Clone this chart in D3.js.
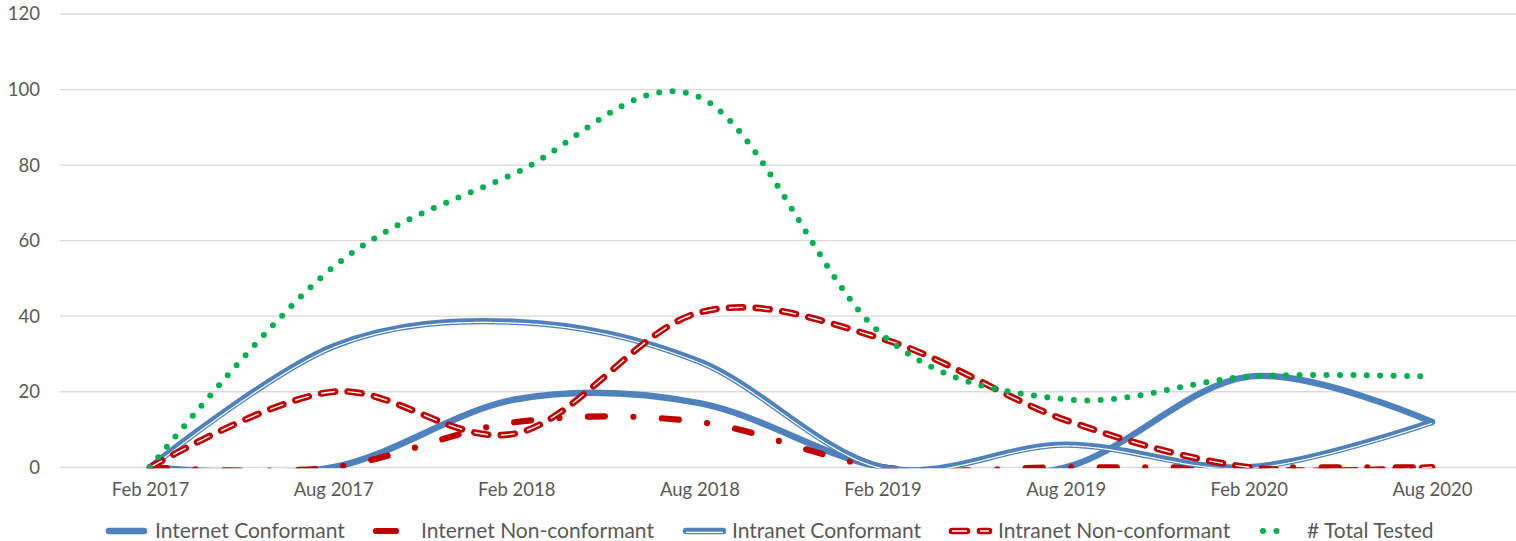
<!DOCTYPE html>
<html>
<head>
<meta charset="utf-8">
<script src="https://cdn.jsdelivr.net/npm/d3@7"></script>
<style>
  html, body { margin: 0; padding: 0; background: #ffffff; }
  svg { display: block; font-family: Lato, "Open Sans", sans-serif; }
</style>
</head>
<body>
<svg id="chart" width="1516" height="541"></svg>
<script>
// Half-year test periods
const categories = ["Feb 2017", "Aug 2017", "Feb 2018", "Aug 2018", "Feb 2019", "Aug 2019", "Feb 2020", "Aug 2020"];

// Counts per period
const internetConformant    = [0, 0, 18, 17, 0, 0, 24, 12];
const internetNonConformant = [0, 0, 12, 12, 0, 0, 0, 0];
const intranetConformant    = [0, 32, 38.5, 28, 0, 6, 0, 12];
const intranetNonConformant = [0, 20, 9, 41, 34, 12.5, 0, 0];
const totalTested           = [0, 53, 78, 98, 35, 18, 24, 24];

const yTicks = [0, 20, 40, 60, 80, 100, 120];
const seriesNames = ["Internet Conformant", "Internet Non-conformant", "Intranet Conformant", "Intranet Non-conformant", "# Total Tested"];

const W = 1516, H = 541;
const plot = { left: 58.5, right: 1523.5, top: 14, bottom: 467.3 };
const BLUE = "#4F81BD", RED = "#C00000", GREEN = "#00B050", TEXT = "#595959", GRID = "#D9D9D9";

const svg = d3.select("#chart");

const x = d3.scalePoint().domain(categories).range([plot.left, plot.right]).padding(0.5);
const y = d3.scaleLinear().domain([0, 120]).range([plot.bottom, plot.top]);

// Gridlines
svg.append("g").selectAll("line").data(yTicks).join("line")
  .attr("x1", 60).attr("x2", W)
  .attr("y1", d => y(d)).attr("y2", d => y(d))
  .attr("stroke", GRID).attr("stroke-width", 1.3);

// Y axis labels (no axis line)
const yAxis = d3.axisLeft(y).tickValues(yTicks).tickSize(0).tickPadding(0);
const gy = svg.append("g").attr("transform", "translate(40,0)").call(yAxis);
gy.select(".domain").remove();
gy.selectAll("text").attr("fill", TEXT).attr("font-size", 18.5).attr("font-family", "Lato, sans-serif");

// X axis labels
const xAxis = d3.axisBottom(x).tickSize(0).tickPadding(0);
const gx = svg.append("g").attr("transform", "translate(0,483)").call(xAxis);
gx.select(".domain").remove();
gx.selectAll("text").attr("fill", TEXT).attr("font-size", 18.5).attr("font-family", "Lato, sans-serif");

// Series lines, clipped to the plot area
svg.append("defs").append("clipPath").attr("id", "plotClip")
  .append("rect").attr("x", 0).attr("y", 0).attr("width", W).attr("height", plot.bottom + 1);

const area = svg.append("g").attr("clip-path", "url(#plotClip)");

const line = d3.line()
  .x((d, i) => x(categories[i]))
  .y(d => y(d))
  .curve(d3.curveCardinal.tension(0));

// Polyline running parallel to a drawn path at distance d (right-hand side of travel)
function parallelPath(node, d) {
  const L = node.getTotalLength();
  const pts = [];
  for (let s = 0; s <= L; s += 1.5) {
    const p = node.getPointAtLength(s);
    const a = node.getPointAtLength(Math.max(0, s - 0.6));
    const b = node.getPointAtLength(Math.min(L, s + 0.6));
    const dx = b.x - a.x, dy = b.y - a.y, n = Math.hypot(dx, dy) || 1;
    pts.push([p.x - dy / n * d, p.y + dx / n * d]);
  }
  return d3.line()(pts);
}

// Internet Conformant: thick solid
area.append("path").attr("d", line(internetConformant))
  .attr("fill", "none").attr("stroke", BLUE).attr("stroke-width", 6.5)
  .attr("stroke-linecap", "round").attr("stroke-linejoin", "round");

// Internet Non-conformant: long dash-dot
area.append("path").attr("d", line(internetNonConformant))
  .attr("fill", "none").attr("stroke", RED).attr("stroke-width", 6.2)
  .attr("stroke-dasharray", "17 28.5 0 28.5")
  .attr("stroke-linecap", "round").attr("stroke-linejoin", "round");

// Intranet Conformant: double line
const icPath = area.append("path").attr("d", line(intranetConformant))
  .attr("fill", "none").attr("stroke", BLUE).attr("stroke-width", 6.4)
  .attr("stroke-linecap", "round").attr("stroke-linejoin", "round");
area.append("path").attr("d", parallelPath(icPath.node(), 1.3))
  .attr("fill", "none").attr("stroke", "#ffffff").attr("stroke-width", 1.2);

// Intranet Non-conformant: dashed double line
area.append("path").attr("d", line(intranetNonConformant))
  .attr("fill", "none").attr("stroke", RED).attr("stroke-width", 6.6)
  .attr("stroke-dasharray", "14 12.7")
  .attr("stroke-linecap", "round").attr("stroke-linejoin", "round");
area.append("path").attr("d", line(intranetNonConformant))
  .attr("fill", "none").attr("stroke", "#ffffff").attr("stroke-width", 1.4)
  .attr("stroke-dasharray", "14 12.7");

// Total Tested: round dots
area.append("path").attr("d", line(totalTested))
  .attr("fill", "none").attr("stroke", GREEN).attr("stroke-width", 6)
  .attr("stroke-dasharray", "0 13.4")
  .attr("stroke-linecap", "round");

// Legend
const legendY = 531;
const legendItems = [
  { x1: 109, x2: 144, tx: 155 },
  { x1: 376, x2: 396, tx: 421 },
  { x1: 686, x2: 723, tx: 732 },
  { x1: 952, x2: 989, tx: 998 },
  { x1: 1263, x2: 1290, tx: 1307 }
];
const lg = svg.append("g");
legendItems.forEach((it, i) => {
  const seg = lg.append("line").attr("x1", it.x1).attr("x2", it.x2)
    .attr("y1", legendY).attr("y2", legendY)
    .attr("stroke-linecap", "round");
  if (i === 0) seg.attr("stroke", BLUE).attr("stroke-width", 6.5);
  if (i === 1) seg.attr("stroke", RED).attr("stroke-width", 6.2);
  if (i === 2) {
    seg.attr("stroke", BLUE).attr("stroke-width", 6.4);
    lg.append("line").attr("x1", it.x1).attr("x2", it.x2)
      .attr("y1", legendY + 1.3).attr("y2", legendY + 1.3)
      .attr("stroke", "#ffffff").attr("stroke-width", 1.2);
  }
  if (i === 3) {
    seg.attr("stroke", RED).attr("stroke-width", 6.6).attr("stroke-dasharray", "15 13");
    lg.append("line").attr("x1", it.x1).attr("x2", it.x2)
      .attr("y1", legendY).attr("y2", legendY)
      .attr("stroke", "#ffffff").attr("stroke-width", 1.4).attr("stroke-dasharray", "15 13");
  }
  if (i === 4) seg.attr("stroke", GREEN).attr("stroke-width", 6).attr("stroke-dasharray", "0 13.5");
  lg.append("text").attr("x", it.tx).attr("y", legendY)
    .attr("dy", "0.35em").attr("fill", TEXT).attr("font-size", 21)
    .text(seriesNames[i]);
});
</script>
</body>
</html>
